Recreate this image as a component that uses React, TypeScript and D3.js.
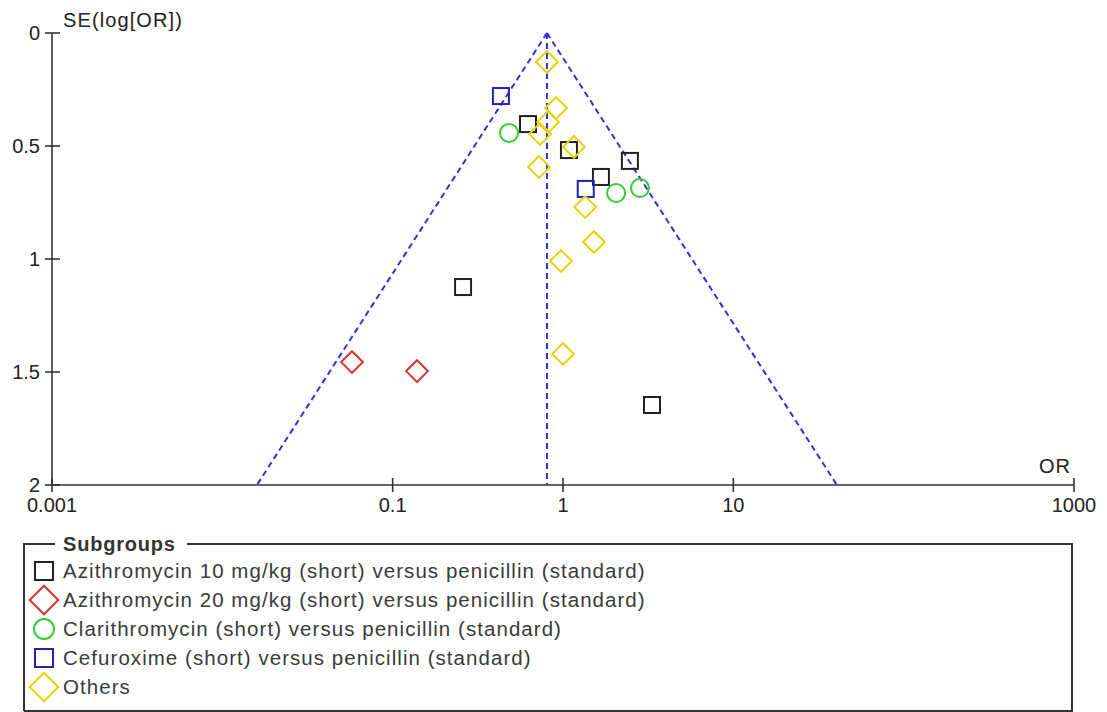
import React from 'react';
import * as d3 from 'd3';

// Funnel plot: odds ratio vs standard error of log(OR)
const pooledOR = 0.805;
const seMax = 2;

const azi10OR = [0.623, 1.084, 2.47, 1.67, 0.259, 3.33];
const azi10SE = [0.403, 0.518, 0.566, 0.637, 1.124, 1.646];

const azi20OR = [0.0577, 0.139];
const azi20SE = [1.456, 1.496];

const clariOR = [0.482, 2.05, 2.83];
const clariSE = [0.442, 0.708, 0.686];

const cefuOR = [0.432, 1.36];
const cefuSE = [0.279, 0.69];

const othersOR = [0.805, 0.91, 0.817, 0.733, 1.16, 0.723, 1.35, 1.52, 0.973, 1.0];
const othersSE = [0.128, 0.332, 0.394, 0.447, 0.504, 0.593, 0.77, 0.925, 1.009, 1.42];

const xTicks = [0.001, 0.1, 1, 10, 1000];
const xTickLabels = ['0.001', '0.1', '1', '10', '1000'];
const yTicks = [0, 0.5, 1, 1.5, 2];
const yTickLabels = ['0', '0.5', '1', '1.5', '2'];

type Shape = 'square' | 'diamond' | 'circle';

const groups: { name: string; shape: Shape; color: string; or: number[]; se: number[] }[] = [
  { name: 'Azithromycin 10 mg/kg (short) versus penicillin (standard)', shape: 'square', color: '#222222', or: azi10OR, se: azi10SE },
  { name: 'Azithromycin 20 mg/kg (short) versus penicillin (standard)', shape: 'diamond', color: '#d93333', or: azi20OR, se: azi20SE },
  { name: 'Clarithromycin (short) versus penicillin (standard)', shape: 'circle', color: '#33cc33', or: clariOR, se: clariSE },
  { name: 'Cefuroxime (short) versus penicillin (standard)', shape: 'square', color: '#2222b8', or: cefuOR, se: cefuSE },
  { name: 'Others', shape: 'diamond', color: '#e8d400', or: othersOR, se: othersSE },
];

const FONT = '"Liberation Sans", Arial, sans-serif';

const Marker: React.FC<{ shape: Shape; color: string; x: number; y: number; size: number }> = ({ shape, color, x, y, size }) => {
  if (shape === 'square') {
    return <rect x={x - size / 2} y={y - size / 2} width={size} height={size} fill="none" stroke={color} strokeWidth={2} />;
  }
  if (shape === 'circle') {
    return <circle cx={x} cy={y} r={size / 2 + 1} fill="none" stroke={color} strokeWidth={2} />;
  }
  const h = size * 0.68;
  return <path d={`M${x},${y - h}L${x + h},${y}L${x},${y + h}L${x - h},${y}Z`} fill="none" stroke={color} strokeWidth={2} />;
};

export default function App() {
  const width = 1107;
  const height = 712;
  const x = d3.scaleLog().domain([0.001, 1000]).range([52, 1074]);
  const y = d3.scaleLinear().domain([0, seMax]).range([33, 485]);

  const z = 1.96 / Math.LN10;
  const lo = pooledOR * Math.pow(10, -z * seMax);
  const hi = pooledOR * Math.pow(10, z * seMax);
  const blue = '#3030e0';

  return (
    <svg width={width} height={height} style={{ position: 'absolute', left: 0, top: 0, background: '#fff' }} fontFamily={FONT}>
      {/* funnel */}
      <g stroke={blue} strokeWidth={2} strokeDasharray="6,4" fill="none">
        <line x1={x(pooledOR)} y1={y(0)} x2={x(pooledOR)} y2={y(seMax)} />
        <line x1={x(pooledOR)} y1={y(0)} x2={x(lo)} y2={y(seMax)} />
        <line x1={x(pooledOR)} y1={y(0)} x2={x(hi)} y2={y(seMax)} />
      </g>

      {/* axes */}
      <g stroke="#333" strokeWidth={1.6}>
        <line x1={x(0.001)} y1={y(0)} x2={x(0.001)} y2={y(seMax)} />
        <line x1={x(0.001)} y1={y(seMax)} x2={x(1000)} y2={y(seMax)} />
        {yTicks.map(t => (
          <line key={'yt' + t} x1={x(0.001) - 7} x2={x(0.001) + 8} y1={y(t)} y2={y(t)} />
        ))}
        {xTicks.map(t => (
          <line key={'xt' + t} x1={x(t)} x2={x(t)} y1={y(seMax) - 7} y2={y(seMax) + 7} />
        ))}
      </g>
      <g fontSize={20} fill="#222">
        {yTicks.map((t, i) => (
          <text key={'yl' + t} x={x(0.001) - 12} y={y(t)} dy="0.36em" textAnchor="end">{yTickLabels[i]}</text>
        ))}
        {xTicks.map((t, i) => (
          <text key={'xl' + t} x={x(t)} y={y(seMax) + 27} textAnchor="middle">{xTickLabels[i]}</text>
        ))}
        <text x={63} y={27} letterSpacing={1.1}>SE(log[OR])</text>
        <text x={1071} y={473} textAnchor="end" letterSpacing={1}>OR</text>
      </g>

      {/* points */}
      {groups.map(g => (
        <g key={g.name}>
          {g.or.map((v, i) => (
            <Marker key={i} shape={g.shape} color={g.color} x={x(v)} y={y(g.se[i])} size={16} />
          ))}
        </g>
      ))}

      {/* legend */}
      <g>
        <path d="M24,711 L24,544 L55,544 M187,544 L1072,544 L1072,711 L24,711" fill="none" stroke="#333" strokeWidth={2} />
        <text x={63} y={551} fontSize={20} fontWeight="bold" fill="#333" letterSpacing={0.8}>Subgroups</text>
        {groups.map((g, i) => (
          <g key={'lg' + g.name} transform={`translate(0, ${571 + i * 29})`}>
            <Marker shape={g.shape} color={g.color} x={44} y={0} size={g.shape === 'diamond' ? 21 : 18} />
            <text x={63} y={7} fontSize={20.5} fill="#3a3a3a" letterSpacing={1.05}>{g.name}</text>
          </g>
        ))}
      </g>
    </svg>
  );
}
